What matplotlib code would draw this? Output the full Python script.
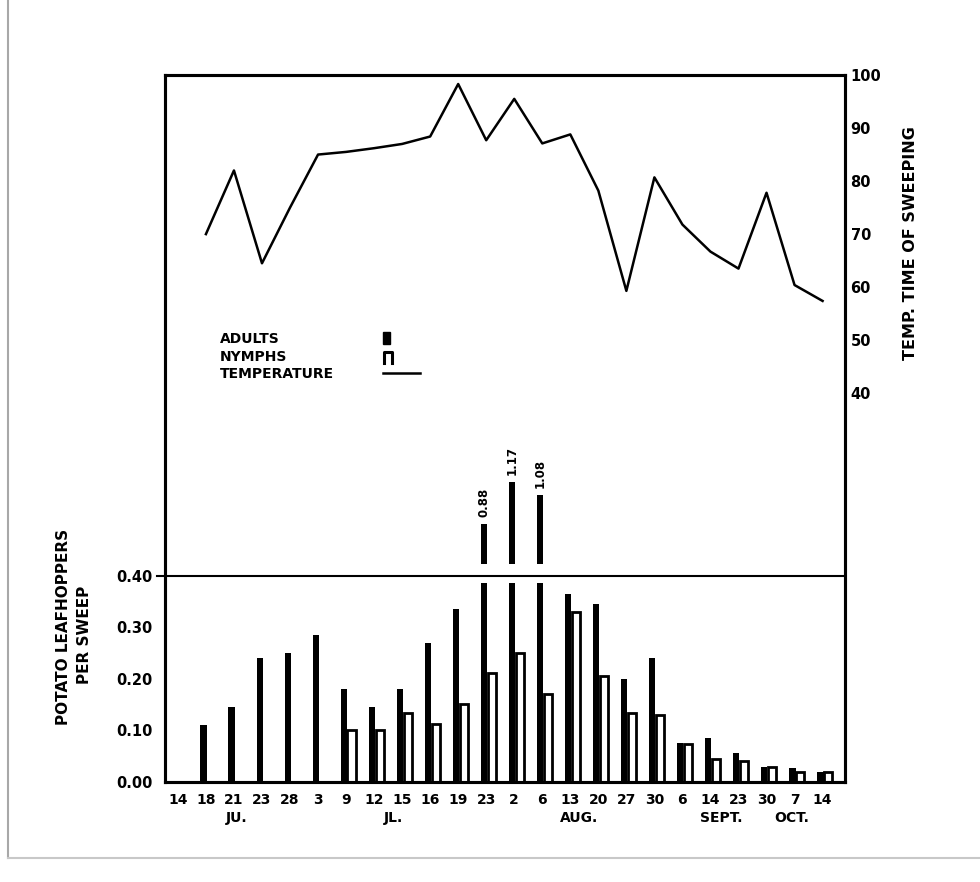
import numpy as np
import matplotlib
matplotlib.use("Agg")
import matplotlib.pyplot as plt
import matplotlib.patches as mpatches
import matplotlib.transforms as mtransforms
from matplotlib.lines import Line2D

plt.rcParams['font.family'] = ['DejaVu Sans']
plt.rcParams['font.weight'] = 'bold'

# sampling dates (day of month) and the months under them
dates = ['14', '18', '21', '23', '28', '3', '9', '12', '15', '16', '19', '23',
         '2', '6', '13', '20', '27', '30', '6', '14', '23', '30', '7', '14']
months = ['JU.', 'JL.', 'AUG.', 'SEPT.', 'OCT.']
month_at = [2.1, 7.7, 14.3, 19.4, 21.9]

# leafhoppers per sweep
adults = [0, 0.11, 0.145, 0.24, 0.25, 0.285, 0.18, 0.145, 0.18, 0.27, 0.335, 0.88,
          1.17, 1.08, 0.365, 0.345, 0.20, 0.24, 0.075, 0.085, 0.057, 0.03, 0.027, 0.02]
nymphs = [0, 0, 0, 0, 0, 0, 0.10, 0.10, 0.133, 0.112, 0.151, 0.211,
          0.25, 0.17, 0.33, 0.205, 0.133, 0.13, 0.074, 0.045, 0.04, 0.03, 0.02, 0.02]

# temperature at time of sweeping (F)
temps = [np.nan, 70, 82, 64.5, 75, 85, 85.5, 86.2, 87, 88.4, 98.3, 87.7,
         95.5, 87.1, 88.8, 78.2, 59.3, 80.7, 71.8, 66.7, 63.5, 77.8, 60.4, 57.4]

BREAK = 0.40

fig = plt.figure(figsize=(9.8, 8.82), dpi=100)
ax = fig.add_axes([165 / 980, 1 - 782 / 882, 680 / 980, 707 / 882])

x = np.arange(len(dates))
adults = np.array(adults)
nymphs = np.array(nymphs)

# nymphs: open bars
ax.bar(x + 0.2, nymphs, width=0.3, facecolor='white', edgecolor='black',
       linewidth=2, zorder=2)

# adults: solid bars, the tall ones broken above 0.40
lower = np.where(adults > BREAK, 0.385, adults)
ax.bar(x - 0.08, lower, width=0.23, color='black', zorder=3)
big = adults > BREAK
tops = 0.40 + (adults[big] - 0.52) * 0.28
ax.bar(x[big] - 0.08, tops - 0.422, bottom=0.422, width=0.23, color='black', zorder=3)
for xi, t, v in zip(x[big], tops, adults[big]):
    ax.text(xi - 0.08, t + 0.012, f"{v:.2f}", rotation=90, ha='center', va='bottom',
            fontsize=8.5)

ax.set_xlim(-0.46, 23.8)
ax.set_ylim(0, 1.37)
ax.plot([-0.75, 23.8], [BREAK, BREAK], color='black', lw=1.5, clip_on=False, zorder=4)

ax.set_yticks([0, 0.1, 0.2, 0.3, 0.4], ['0.00', '0.10', '0.20', '0.30', '0.40'])
ax.set_xticks(x, dates)
ax.tick_params(axis='y', length=0, pad=9, labelsize=10.5)
ax.tick_params(axis='x', length=0, pad=8, labelsize=10)

trans = mtransforms.blended_transform_factory(ax.transData, ax.transAxes)
for m, p in zip(months, month_at):
    ax.text(p, -0.051, m, transform=trans, ha='center', va='center', fontsize=10)

# temperature on the right scale
ax2 = ax.twinx()
ax2.plot(x, temps, color='black', lw=1.8)
ax2.set_ylim(-33.3, 100)
ax2.set_yticks([40, 50, 60, 70, 80, 90, 100])
ax2.tick_params(axis='y', length=0, pad=4, labelsize=10.5)

for a in (ax, ax2):
    for s in a.spines.values():
        s.set_linewidth(2.2)

# key
ax.text(0.081, 0.627, 'ADULTS', transform=ax.transAxes, va='center', fontsize=10)
ax.text(0.081, 0.601, 'NYMPHS', transform=ax.transAxes, va='center', fontsize=10)
ax.text(0.081, 0.577, 'TEMPERATURE', transform=ax.transAxes, va='center', fontsize=10)
ax.add_patch(mpatches.Rectangle((0.3206, 0.6195), 0.0105, 0.017, transform=ax.transAxes,
                                color='black'))
ax.plot([0.3215, 0.3215, 0.3345, 0.3345], [0.5926, 0.6076, 0.6076, 0.5926],
        transform=ax.transAxes, color='black', lw=2.2)
ax.plot([0.3206, 0.375], [0.5785, 0.5785], transform=ax.transAxes, color='black', lw=1.8)

fig.text(63 / 980, 1 - 627 / 882, 'POTATO LEAFHOPPERS', rotation=90, ha='center',
         va='center', fontsize=11)
fig.text(84 / 980, 1 - 635 / 882, 'PER SWEEP', rotation=90, ha='center',
         va='center', fontsize=11)
fig.text(910 / 980, 1 - 243 / 882, 'TEMP. TIME OF SWEEPING', rotation=90, ha='center',
         va='center', fontsize=11.5)

# edges of the scanned page
fig.add_artist(Line2D([8 / 980, 8 / 980], [1, 1 - 858 / 882], color='#a8a8a8', lw=1.5,
                      transform=fig.transFigure))
fig.add_artist(Line2D([8 / 980, 1], [1 - 858 / 882, 1 - 858 / 882], color='#c8c8c8', lw=1.5,
                      transform=fig.transFigure))

fig.savefig('out.png', dpi=100)
